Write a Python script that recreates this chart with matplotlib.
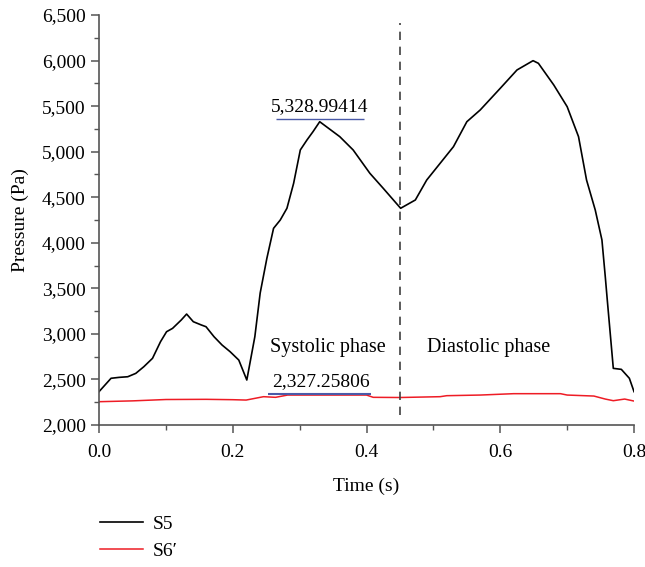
import matplotlib
matplotlib.use('Agg')
import matplotlib.pyplot as plt
from matplotlib.ticker import FuncFormatter, MultipleLocator

plt.rcParams['font.family'] = ['Liberation Serif', 'DejaVu Serif']

# S5 pressure (Pa) vs time (s)
t_s5 = [0.000, 0.018, 0.030, 0.043, 0.055, 0.067, 0.080, 0.092, 0.101, 0.110,
        0.123, 0.131, 0.141, 0.153, 0.160, 0.172, 0.184, 0.196, 0.209, 0.221,
        0.233, 0.241, 0.251, 0.261, 0.271, 0.281, 0.291, 0.301, 0.311, 0.320,
        0.330, 0.360, 0.380, 0.405, 0.425, 0.451, 0.473, 0.490, 0.530, 0.550,
        0.570, 0.600, 0.625, 0.649, 0.657, 0.680, 0.700, 0.717, 0.729, 0.742,
        0.752, 0.757, 0.760, 0.769, 0.781, 0.793, 0.800]
p_s5 = [2366, 2513, 2523, 2530, 2567, 2640, 2732, 2915, 3024, 3061,
        3153, 3218, 3134, 3098, 3079, 2969, 2878, 2805, 2713, 2494,
        2969, 3449, 3830, 4159, 4250, 4379, 4653, 5019, 5129, 5220,
        5329, 5165, 5019, 4763, 4598, 4379, 4470, 4689, 5055, 5329,
        5458, 5696, 5897, 5999, 5970, 5732, 5494, 5165, 4689, 4360,
        4031, 3628, 3372, 2622, 2611, 2513, 2366]

# S6' pressure (Pa) vs time (s)
t_s6 = [0.000, 0.050, 0.100, 0.160, 0.200, 0.220, 0.246, 0.264, 0.282, 0.340,
        0.400, 0.410, 0.450, 0.510, 0.520, 0.570, 0.620, 0.690, 0.700, 0.740,
        0.757, 0.769, 0.786, 0.800]
p_s6 = [2256, 2265, 2280, 2282, 2278, 2274, 2311, 2304, 2329, 2329,
        2329, 2304, 2302, 2311, 2322, 2329, 2344, 2344, 2329, 2318,
        2285, 2267, 2285, 2263]

peak_sys = 5328.99414
mean_s6 = 2327.25806
t_split = 0.45

fig = plt.figure(figsize=(6.45, 5.67), dpi=100)
ax = fig.add_axes([0.1535, 0.2504, 0.8295, 0.7231])

l1, = ax.plot(t_s5, p_s5, color='black', lw=1.2, label='S5')
l2, = ax.plot(t_s6, p_s6, color='#ee1c25', lw=1.1, label='S6\u2032')

ax.axvline(t_split, ymin=0.024, ymax=0.98, color='#404040', lw=1.2, linestyle=(0, (5, 4)))

# annotations
ax.hlines(peak_sys + 30, 0.264, 0.396, color='#4a5aa8', lw=1.0)
ax.text(0.330, peak_sys + 70, '5,328.99414', ha='center', va='bottom', fontsize=14)
ax.hlines(mean_s6 + 17, 0.253, 0.407, color='#4a5aa8', lw=1.5)
ax.text(0.332, mean_s6 + 60, '2,327.25806', ha='center', va='bottom', fontsize=14)
ax.text(0.342, 2850, 'Systolic phase', ha='center', va='center', fontsize=14.5)
ax.text(0.582, 2855, 'Diastolic phase', ha='center', va='center', fontsize=14.5)

ax.set_xlim(0, 0.8)
ax.set_ylim(2000, 6500)
ax.xaxis.set_major_locator(MultipleLocator(0.2))
ax.xaxis.set_minor_locator(MultipleLocator(0.1))
ax.yaxis.set_major_locator(MultipleLocator(500))
ax.yaxis.set_minor_locator(MultipleLocator(250))
ax.yaxis.set_major_formatter(FuncFormatter(lambda v, p: '{:,.0f}'.format(v)))
ax.xaxis.set_major_formatter(FuncFormatter(lambda v, p: '{:.1f}'.format(v)))

for s in ['top', 'right']:
    ax.spines[s].set_visible(False)
for s in ['left', 'bottom']:
    ax.spines[s].set_color('#555555')
    ax.spines[s].set_linewidth(1.2)
ax.tick_params(which='both', direction='out', colors='#555555', labelcolor='black', labelsize=14)
ax.tick_params(which='major', length=6, width=1.1)
ax.tick_params(axis='x', which='major', pad=8)
ax.tick_params(which='minor', length=3.5, width=1.0)

ax.set_xlabel('Time (s)', fontsize=14, labelpad=12)
ax.set_ylabel('Pressure (Pa)', fontsize=14, labelpad=9)

fig.legend(handles=[l1, l2], loc='upper left', bbox_to_anchor=(0.143, 0.105),
           frameon=False, fontsize=14, handlelength=2.2, handletextpad=0.5,
           labelspacing=0.5, borderaxespad=0)

fig.savefig('out.png', dpi=100)
